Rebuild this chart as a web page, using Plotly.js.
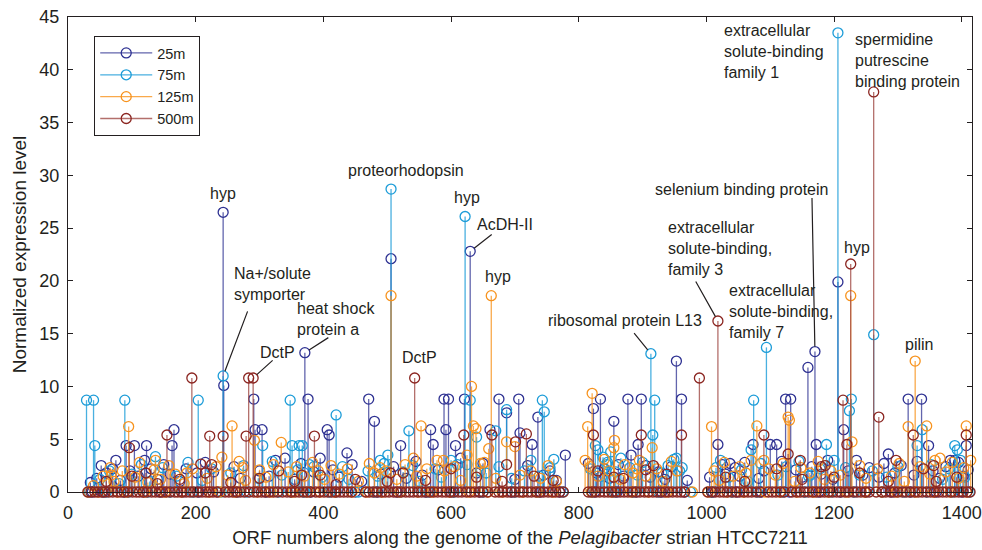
<!DOCTYPE html>
<html><head><meta charset="utf-8">
<script src="https://cdn.plot.ly/plotly-3.0.1.min.js"></script>
<style>html,body{margin:0;padding:0;background:#fff;} #chart{width:982px;height:550px;}</style>
</head><body><div id="chart"></div>
<script>
// ORF numbers and normalized expression per depth
const orf25 = [243,244,371,506,630,953,1159,1170,1206,
 291,376,471,589,596,621,675,706,834,877,898,961,1124,1132,1316,1337,
 52,75,91,104,120,123,163,166,293,304,340,406,409,437,480,521,568,572,592,607,661,687,708,727,736,779,823,855,882,893,1018,1025,1037,1073,1100,1110,1172,1215,1285,1348,1389,1407,
 35,45,60,70,82,97,110,130,140,150,160,175,185,202,215,228,260,270,300,315,325,355,365,385,395,415,425,445,460,490,510,530,545,555,580,615,640,650,700,720,745,755,765,815,828,840,848,862,870,905,912,925,935,945,970,1005,1030,1045,1052,1060,1082,1090,1118,1140,1150,1165,1180,1190,1198,1222,1235,1245,1255,1270,1278,1295,1305,1325,1330,1355,1365,1375,1382,1395,1402,1410,
 38,55,88,118,145,180,205,235,265,310,350,380,420,450,485,515,560,600,645,695,740,770,825,860,890,930,965,1010,1048,1086,1130,1176,1210,1250,1290,1320,1360,1400];
const val25 = [26.5,10.1,13.2,22.1,22.8,12.4,11.8,13.3,19.9,
 8.8,8.8,8.8,8.8,8.8,8.8,8.8,8.8,8.8,8.8,8.8,8.8,8.8,8.8,8.8,8.8,
 2.5,3.0,4.4,4.4,3.0,4.4,4.4,5.9,5.9,5.9,3.2,5.9,5.4,3.7,6.7,4.4,5.9,4.5,5.9,4.4,5.9,7.5,5.6,4.5,7.1,3.5,7.9,6.7,3.5,4.5,4.5,2.6,2.7,4.5,4.5,4.5,4.5,5.9,3.6,4.4,3.0,4.4,
 0.9,1.3,1.8,2.2,1.1,2.0,1.5,2.2,1.2,2.6,1.7,1.0,2.2,1.8,2.8,1.9,2.4,1.3,2.0,1.5,3.0,1.2,2.7,1.9,3.2,2.1,1.4,2.6,1.0,1.7,2.4,1.3,2.9,1.6,2.1,3.2,1.8,2.7,1.2,2.5,1.6,2.0,1.1,2.7,1.8,2.2,1.3,2.6,1.5,2.5,1.4,1.9,1.2,2.4,1.1,1.4,1.7,2.3,1.5,2.8,1.3,2.0,2.9,2.1,1.4,2.4,1.7,3.0,1.2,2.0,3.0,1.6,2.3,1.4,2.7,1.8,2.5,1.6,2.9,2.0,1.3,2.4,3.0,2.8,1.5,2.1,
 0,0,0,0,0,0,0,0,0,0,0,0,0,0,0,0,0,0,0,0,0,0,0,0,0,0,0,0,0,0,0,0,0,0,0,0,0,0];

const orf75 = [243,506,622,913,1094,1206,1262,
 29,40,89,204,348,630,743,919,1074,1227,
 42,137,305,351,362,367,385,420,489,501,534,600,625,640,646,670,687,746,761,826,830,838,845,850,916,949,953,958,962,1070,1163,1188,1224,1330,1338,1389,1393,
 50,65,80,100,115,128,148,170,188,210,225,255,275,298,320,335,360,378,398,430,440,470,485,495,525,540,550,575,585,610,655,675,695,715,725,738,755,818,836,844,858,866,880,892,900,930,940,1015,1022,1035,1055,1065,1085,1112,1125,1145,1160,1178,1200,1218,1240,1260,1282,1300,1352,1370,1380,1398,1405,
 33,60,95,125,160,195,240,280,330,370,410,455,480,520,565,605,650,700,735,775,820,855,885,925,975,1008,1040,1080,1120,1155,1195,1232,1275,1310,1345,1385,1412];
const val75 = [11.0,28.7,26.1,13.1,13.7,43.5,14.9,
 8.7,8.7,8.7,8.7,8.7,8.7,8.7,8.7,8.7,8.8,
 4.4,3.35,4.4,4.4,4.4,4.4,2.4,7.3,3.0,3.5,5.8,3.0,2.6,5.2,2.0,5.8,7.8,7.6,3.1,4.4,4.0,3.3,2.8,3.8,5.4,3.1,3.2,2.0,2.3,4.0,1.6,4.5,7.7,4.4,5.9,4.4,4.0,
 1.2,2.0,0.8,1.7,2.6,1.0,2.3,1.5,2.8,1.1,2.2,1.8,2.5,1.3,2.9,1.6,2.1,2.6,1.4,2.4,1.2,2.0,1.5,2.7,1.9,2.5,1.0,2.2,1.4,2.6,1.8,2.4,1.3,2.0,3.0,1.5,2.3,2.2,1.5,2.6,1.9,3.2,2.3,1.6,2.8,1.8,2.5,2.3,3.0,1.4,2.1,1.0,2.7,1.6,2.4,2.9,1.5,2.2,3.0,2.3,1.6,2.0,1.4,2.4,2.6,1.2,2.2,3.0,1.4,
 0,0,0,0,0,0,0,0,0,0,0,0,0,0,0,0,0,0,0,0,0,0,0,0,0,0,0,0,0,0,0,0,0,0,0,0,0];

const orf125 = [506,663,1226,1327,
 95,66,68,137,186,241,257,274,292,334,472,489,541,553,588,590,632,635,639,646,659,687,700,814,821,855,856,891,915,954,1008,1079,1090,1128,1130,1228,1316,1345,1366,1407,1414,
 40,55,72,85,105,112,125,135,145,158,168,182,195,218,232,250,268,278,300,310,322,345,358,370,383,392,402,412,425,438,455,480,498,515,528,546,562,578,605,615,625,652,670,708,725,740,752,765,810,818,830,840,848,865,872,885,895,905,922,932,945,1012,1020,1028,1042,1052,1062,1070,1098,1108,1120,1138,1148,1162,1175,1185,1195,1210,1240,1250,1268,1290,1302,1310,1335,1350,1358,1375,1385,1395,1403,
 32,48,78,92,120,152,178,222,238,262,296,318,352,375,395,418,445,468,492,520,548,570,598,628,658,680,712,735,760,820,852,882,910,938,978,1003,1032,1058,1092,1115,1142,1168,1192,1220,1248,1275,1298,1328,1356,1382,1408];
const val125 = [18.6,18.6,18.6,12.4,
 6.2,2.3,1.6,3.0,1.8,3.3,6.26,2.3,4.9,4.7,2.7,2.3,3.2,6.26,3.0,2.0,10.0,6.26,6.0,2.7,4.1,4.75,4.3,6.2,9.35,4.2,4.9,2.2,4.2,2.0,6.2,6.26,3.0,7.1,6.8,4.75,6.2,6.26,3.2,6.26,3.0,
 0.6,1.5,1.0,2.0,1.4,2.8,0.9,2.1,1.2,2.5,1.7,0.8,2.2,1.3,2.4,1.6,2.9,1.1,2.1,1.4,2.6,1.9,2.4,1.5,2.8,2.0,1.2,2.5,1.7,2.2,1.0,1.8,2.0,1.2,2.6,1.5,2.2,3.0,2.4,1.1,3.5,2.8,1.3,1.6,2.0,1.3,2.5,1.0,3.0,2.4,1.5,3.1,2.0,1.2,2.6,1.8,3.0,1.5,2.2,1.0,2.9,2.0,1.1,2.8,1.5,2.4,1.8,3.0,2.2,1.6,2.7,1.0,2.3,1.8,2.9,1.2,2.0,1.6,2.5,1.3,2.2,1.5,2.7,1.0,2.4,1.7,3.0,1.9,2.8,1.3,2.3,
 0,0,0,0,0,0,0,0,0,0,0,0,0,0,0,0,0,0,0,0,0,0,0,0,0,0,0,0,0,0,0,0,0,0,0,0,0,0,0,0,0,0,0,0,0,0,0,0,0,0,0];

const orf500 = [194,283,290,543,989,1018,1226,1262,
 96,122,155,208,222,225,243,279,366,386,505,620,664,687,701,718,823,855,898,917,938,961,1030,1090,1128,1147,1186,1214,1220,1270,1297,1324,1356,1392,1407,
 60,100,140,175,215,255,300,330,355,395,420,450,500,525,560,600,640,680,730,760,830,870,905,1060,1110,1150,1180,1200,1240,1285,1340,1360,
 31,36,42,47,53,58,64,70,77,83,88,94,101,107,112,118,124,131,137,143,148,154,160,167,172,178,185,191,197,203,210,216,221,227,233,246,252,258,264,270,276,284,291,297,303,309,315,322,328,336,343,349,356,362,368,374,380,388,394,401,407,413,419,426,432,438,444,466,472,478,484,491,497,503,510,516,522,529,535,541,548,554,561,567,573,579,586,592,598,604,611,617,624,631,637,644,650,657,669,675,681,688,694,700,707,713,720,726,733,739,745,752,758,764,770,776,815,821,827,833,840,846,852,858,865,871,877,884,890,896,903,909,916,922,928,935,941,947,954,960,966,1002,1008,1014,1021,1027,1033,1040,1046,1052,1059,1065,1071,1078,1084,1097,1103,1109,1116,1122,1134,1141,1147,1153,1160,1166,1172,1179,1185,1191,1198,1204,1210,1217,1223,1230,1236,1242,1249,1255,1266,1275,1281,1288,1294,1300,1307,1313,1319,1326,1332,1338,1345,1351,1357,1364,1370,1376,1383,1389,1395,1402,1408,1413];
const val500 = [10.8,10.8,10.8,10.8,10.8,16.2,21.6,37.9,
 4.2,1.8,5.4,2.65,5.3,2.6,5.3,5.3,1.6,5.3,1.8,5.4,5.4,2.6,4.75,5.5,5.4,1.4,5.4,2.5,1.7,5.4,1.4,5.4,3.6,3.0,2.5,8.7,4.5,7.1,3.0,5.4,2.5,1.4,5.4,
 1.0,1.5,0.8,1.2,1.8,0.9,1.3,2.0,1.0,1.6,0.7,1.2,1.0,1.8,1.1,2.2,1.4,1.0,1.5,1.1,2.0,1.3,2.1,1.0,2.2,1.2,2.4,1.4,1.8,1.0,2.2,1.0];
// remaining 500m ORFs are at zero
while (val500.length < orf500.length) val500.push(0);

const seriesNames = ['25m','75m','125m','500m'];
const markerColors = ['#2E3192','#1C9CD8','#F7931E','#8B2520'];
const stemColors = ['rgba(46,49,146,0.75)','rgba(28,156,216,0.8)','rgba(247,147,30,0.8)','rgba(160,75,70,0.8)'];
const orfs = [orf25, orf75, orf125, orf500];
const vals = [val25, val75, val125, val500];

const traces = [];
[0,1,2,3].forEach(k=>{
  const sx=[], sy=[], mx=[], my=[];
  orfs[k].forEach((o,i)=>{
    sx.push(o,o,null); sy.push(0, vals[k][i], null);
    mx.push(o,null); my.push(vals[k][i], null);
  });
  traces.push({type:'scatter', mode:'lines', x:sx, y:sy, showlegend:false, hoverinfo:'skip',
    cliponaxis:false, line:{color:stemColors[k], width:1.3}});
  traces.push({type:'scatter', mode:'lines+markers', name:seriesNames[k], x:mx, y:my,
    connectgaps:false, cliponaxis:false, hoverinfo:'skip',
    line:{color:stemColors[k], width:1.3},
    marker:{symbol:'circle-open', size:10, color:markerColors[k], line:{width:1.3, color:markerColors[k]}}});
});

function pt(k, orf){ return {x: orf, y: vals[k][orfs[k].indexOf(orf)]}; }
const S = {'25':0,'75':1,'125':2,'500':3};
const txtColor = '#231F20';
const labels = [
 ['25',243,'hyp','center',0,19],
 ['75',243,'Na+/solute<br>symporter','left',9,92],
 ['500',290,'DctP','left',5,26],
 ['25',371,'heat shock<br>protein a','left',-10,34],
 ['75',506,'proteorhodopsin','left',-45,19],
 ['500',543,'DctP','center',5,21],
 ['75',622,'hyp','center',2,19],
 ['25',630,'AcDH-II','left',5,27],
 ['125',663,'hyp','center',7,19],
 ['75',913,'ribosomal protein L13','left',-105,33],
 ['500',1018,'extracellular<br>solute-binding,<br>family 3','left',-52,73],
 ['25',1170,'selenium binding protein','left',-162,162],
 ['25',1159,'extracellular<br>solute-binding,<br>family 7','left',-81,56],
 ['75',1206,'extracellular<br>solute-binding<br>family 1','right',-12,-19],
 ['500',1262,'spermidine<br>putrescine<br>binding protein','left',-21,31],
 ['500',1226,'hyp','center',6,17],
 ['125',1327,'pilin','center',4,17]
];
const leaders = [
 ['75',243,25,-66],['500',290,21,-19],['25',371,25,-16],['25',630,23,-18],
 ['75',913,-18,-22],['500',1018,-23,-41],['25',1170,-3,-155]
];
const annotations = [];
labels.forEach(l=>{
  const p = pt(S[l[0]], l[1]);
  annotations.push({x:p.x, y:p.y, xref:'x', yref:'y', text:l[2], showarrow:false,
    xanchor:l[3], yanchor:'middle', align:'left', xshift:l[4], yshift:l[5],
    font:{size:16, color:txtColor}});
});
leaders.forEach(l=>{
  const p = pt(S[l[0]], l[1]);
  annotations.push({x:p.x, y:p.y, xref:'x', yref:'y', text:'', showarrow:true,
    arrowhead:0, arrowwidth:1.2, arrowcolor:txtColor, ax:l[2], ay:l[3], standoff:5});
});

const font = {family:'Liberation Sans, Arial, Helvetica, sans-serif', color:txtColor};
const layout = {
  width:982, height:550,
  margin:{l:68, r:10, t:17, b:58},
  paper_bgcolor:'#fff', plot_bgcolor:'#fff',
  font:Object.assign({size:16}, font),
  showlegend:true,
  legend:{x:0.029, y:0.96, xanchor:'left', yanchor:'top', bgcolor:'#fff',
    bordercolor:txtColor, borderwidth:1, font:{size:14.5, color:txtColor},
    itemwidth:52, tracegroupgap:0},
  xaxis:{range:[0,1416], dtick:200, tick0:0, ticks:'inside', ticklen:5, tickcolor:txtColor,
    showline:true, linecolor:txtColor, linewidth:1, mirror:'ticks', showgrid:false, zeroline:false,
    tickfont:{size:18, color:txtColor}, ticklabelstandoff:4,
    title:{text:'ORF numbers along the genome of the <i>Pelagibacter</i> strian HTCC7211', font:{size:18.5, color:txtColor}, standoff:9}},
  yaxis:{range:[0,45], dtick:5, tick0:0, ticks:'inside', ticklen:5, tickcolor:txtColor,
    showline:true, linecolor:txtColor, linewidth:1, mirror:'ticks', showgrid:false, zeroline:false,
    tickfont:{size:18, color:txtColor}, ticklabelstandoff:4,
    title:{text:'Normalized expression level', font:{size:19, color:txtColor}, standoff:7}},
  annotations
};
Plotly.newPlot('chart', traces, layout, {displayModeBar:false, staticPlot:true});
</script></body></html>
